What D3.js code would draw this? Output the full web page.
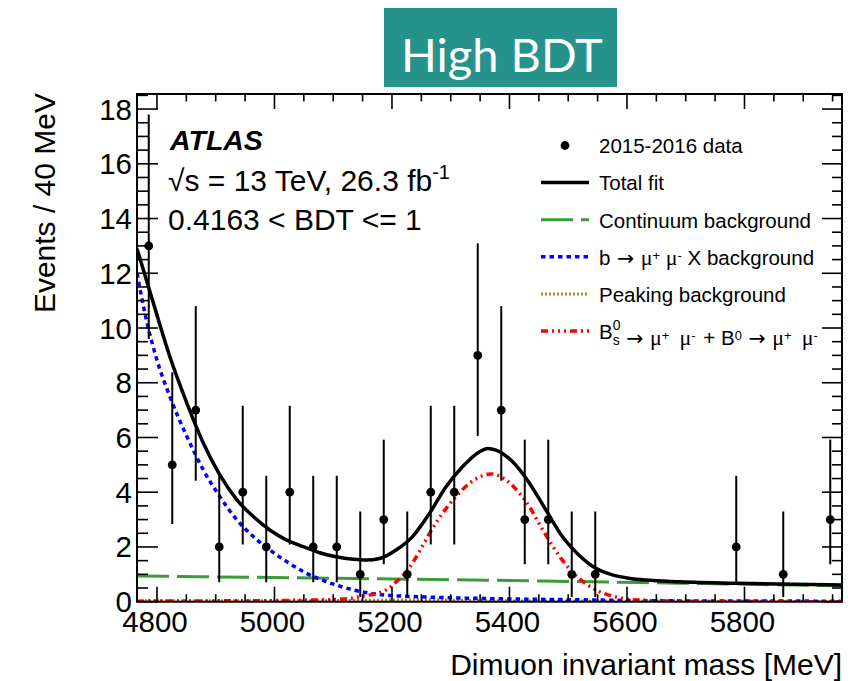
<!DOCTYPE html>
<html>
<head>
<meta charset="utf-8">
<script src="https://cdn.jsdelivr.net/npm/d3@7"></script>
<style>
  body { margin: 0; background: #fff; }
  text { font-family: "Liberation Sans", Arial, Helvetica, sans-serif; }
</style>
</head>
<body>
<svg id="chart" width="851" height="681"></svg>
<script>
// data points, 40 MeV bins (empty bins are not drawn)
const dataMass  = [4786, 4826, 4866, 4906, 4946, 4986, 5026, 5066, 5106, 5146, 5186, 5226, 5266, 5306, 5346, 5386, 5426, 5466, 5506, 5546, 5786, 5866, 5946]
const dataCount = [13, 5, 7, 2, 4, 2, 4, 2, 2, 1, 3, 1, 4, 4, 9, 7, 3, 3, 1, 1, 2, 1, 3]
const dataLow   = [9.6, 2.84, 4.42, 0.71, 2.09, 0.71, 2.09, 0.71, 0.71, 0.17, 1.37, 0.17, 2.09, 2.09, 6.06, 4.42, 1.37, 1.37, 0.17, 0.17, 0.71, 0.17, 1.37]
const dataHigh  = [17.8, 8.38, 10.8, 4.6, 7.16, 4.6, 7.16, 4.6, 4.6, 3.3, 5.92, 3.3, 7.16, 7.16, 13.1, 10.8, 5.92, 5.92, 3.3, 3.3, 4.6, 3.3, 5.92]

// total fit
const totalMass = [4766, 4794, 4822, 4851, 4879, 4907, 4936, 4964, 4992, 5021, 5049, 5077, 5105, 5134, 5156, 5179, 5207, 5235, 5264, 5292, 5320, 5349, 5363, 5377, 5405, 5434, 5462, 5490, 5518, 5547, 5575, 5603, 5632, 5690, 5790, 5966]
const totalVal  = [12.9, 10.9, 8.95, 7.25, 5.79, 4.63, 3.72, 3.11, 2.62, 2.25, 2.01, 1.79, 1.64, 1.55, 1.52, 1.58, 1.89, 2.38, 3.23, 4.2, 4.93, 5.48, 5.6, 5.54, 5.12, 4.33, 3.35, 2.38, 1.71, 1.22, 0.98, 0.86, 0.79, 0.73, 0.67, 0.61]

// continuum background
const contMass = [4766, 4966, 5166, 5366, 5566, 5766, 5966]
const contVal  = [0.94, 0.89, 0.84, 0.785, 0.72, 0.65, 0.58]

// b -> mu mu X background
const bxMass = [4766, 4783, 4800, 4822, 4851, 4879, 4907, 4936, 4964, 4992, 5021, 5049, 5077, 5105, 5134, 5162, 5190, 5247, 5349, 5518, 5688, 5966]
const bxVal  = [12.0, 10.2, 8.83, 7.49, 6.03, 4.81, 3.84, 2.99, 2.38, 1.89, 1.46, 1.1, 0.82, 0.61, 0.43, 0.31, 0.24, 0.18, 0.12, 0.07, 0.03, 0.02]

// peaking background
const peakMass = [4766, 5100, 5200, 5260, 5320, 5400, 5600, 5966]
const peakVal  = [0.03, 0.04, 0.06, 0.07, 0.05, 0.03, 0.02, 0.01]

// Bs + B0 signal
const sigMass = [4766, 4900, 5000, 5060, 5111, 5150, 5190, 5207, 5227, 5247, 5264, 5286, 5309, 5332, 5354, 5368, 5394, 5417, 5434, 5450, 5467, 5490, 5518, 5547, 5575, 5603, 5650, 5750, 5966]
const sigVal  = [0.02, 0.03, 0.04, 0.06, 0.09, 0.2, 0.43, 0.72, 1.16, 1.85, 2.5, 3.23, 3.84, 4.33, 4.6, 4.67, 4.45, 3.96, 3.47, 2.87, 2.26, 1.52, 0.86, 0.43, 0.21, 0.09, 0.03, 0.01, 0]

const xTicks = [4800, 5000, 5200, 5400, 5600, 5800]
const yTicks = [0, 2, 4, 6, 8, 10, 12, 14, 16, 18]

const svg = d3.select("#chart")

const pLeft = 137, pRight = 842, pTop = 94, pBottom = 601.7

const x = d3.scaleLinear().domain([4766, 5966]).range([pLeft, pRight])
const y = d3.scaleLinear().domain([0, 18.55]).range([pBottom, pTop])

// banner
svg.append("rect")
    .attr("x", 384).attr("y", 8)
    .attr("width", 233).attr("height", 79)
    .attr("fill", "#26928c")
svg.append("text")
    .attr("x", 401).attr("y", 71.5)
    .attr("fill", "#fff")
    .style("font-family", "Lato, 'Open Sans', sans-serif")
    .attr("font-size", 47)
    .text("High BDT")

svg.append("clipPath").attr("id", "plotclip")
  .append("rect")
    .attr("x", pLeft).attr("y", pTop)
    .attr("width", pRight - pLeft).attr("height", pBottom - pTop)

const plot = svg.append("g").attr("clip-path", "url(#plotclip)")

const line = (xs, ys) => d3.line()
    .x((d, i) => x(xs[i]))
    .y((d, i) => y(ys[i]))
    .curve(d3.curveMonotoneX)(xs)

// curves
plot.append("path")
    .attr("d", line(peakMass, peakVal))
    .attr("fill", "none").attr("stroke", "#b5862a")
    .attr("stroke-width", 3).attr("stroke-dasharray", "2 2")
plot.append("path")
    .attr("d", line(contMass, contVal))
    .attr("fill", "none").attr("stroke", "#3b9b3b")
    .attr("stroke-width", 3).attr("stroke-dasharray", "32 8")
plot.append("path")
    .attr("d", line(bxMass, bxVal))
    .attr("fill", "none").attr("stroke", "#0000ff")
    .attr("stroke-width", 3.5).attr("stroke-dasharray", "4.5 4")
plot.append("path")
    .attr("d", line(sigMass, sigVal))
    .attr("fill", "none").attr("stroke", "#ff0000")
    .attr("stroke-width", 3.5).attr("stroke-dasharray", "7 4 2 4 2 4 2 4")
plot.append("path")
    .attr("d", line(totalMass, totalVal))
    .attr("fill", "none").attr("stroke", "#000")
    .attr("stroke-width", 3.5)

// data points
const pts = plot.append("g")
pts.selectAll("line")
  .data(dataMass)
  .join("line")
    .attr("x1", d => x(d)).attr("x2", d => x(d))
    .attr("y1", (d, i) => y(dataLow[i]))
    .attr("y2", (d, i) => y(dataHigh[i]))
    .attr("stroke", "#000").attr("stroke-width", 2)
pts.selectAll("circle")
  .data(dataMass)
  .join("circle")
    .attr("cx", d => x(d))
    .attr("cy", (d, i) => y(dataCount[i]))
    .attr("r", 4.4)
    .attr("fill", "#000")

// frame and ticks (ROOT style, ticks on all four sides)
const axes = svg.append("g").attr("stroke", "#000").attr("stroke-width", 2)
axes.append("rect")
    .attr("x", pLeft).attr("y", pTop)
    .attr("width", pRight - pLeft).attr("height", pBottom - pTop)
    .attr("fill", "none")

const xMinor = d3.range(4800, 5966, 50)
xMinor.forEach(v => {
  const major = xTicks.includes(v)
  axes.append("line")
      .attr("x1", x(v)).attr("x2", x(v))
      .attr("y1", pBottom).attr("y2", pBottom - (major ? 15 : 7.5))
      .attr("stroke-width", 1.6)
  axes.append("line")
      .attr("x1", x(v)).attr("x2", x(v))
      .attr("y1", pTop).attr("y2", pTop + (major ? 15 : 7.5))
      .attr("stroke-width", 1.6)
})
const yMinor = d3.range(0, 18.55, 0.5)
yMinor.forEach(v => {
  const major = yTicks.includes(v)
  axes.append("line")
      .attr("x1", pLeft).attr("x2", pLeft + (major ? 21 : 11))
      .attr("y1", y(v)).attr("y2", y(v))
      .attr("stroke-width", 1.6)
  axes.append("line")
      .attr("x1", pRight).attr("x2", pRight - (major ? 20 : 10))
      .attr("y1", y(v)).attr("y2", y(v))
      .attr("stroke-width", 1.6)
})

// tick labels
svg.append("g").selectAll("text")
  .data(xTicks)
  .join("text")
    .attr("x", d => x(d) - 2)
    .attr("y", 632)
    .attr("text-anchor", "middle")
    .attr("font-size", 29.5)
    .text(d => d)
svg.append("g").selectAll("text")
  .data(yTicks)
  .join("text")
    .attr("x", 132)
    .attr("y", d => y(d) + 10.5)
    .attr("text-anchor", "end")
    .attr("font-size", 29.5)
    .text(d => d)

// axis titles
svg.append("text")
    .attr("x", 842).attr("y", 675)
    .attr("text-anchor", "end")
    .attr("font-size", 30)
    .text("Dimuon invariant mass [MeV]")
svg.append("text")
    .attr("transform", "translate(55,93) rotate(-90)")
    .attr("text-anchor", "end")
    .attr("font-size", 30)
    .text("Events / 40 MeV")

// ATLAS label
svg.append("text")
    .attr("x", 170).attr("y", 150)
    .attr("font-size", 28.5)
    .attr("font-weight", "bold").attr("font-style", "italic")
    .text("ATLAS")
const lumi = svg.append("text")
    .attr("x", 168).attr("y", 191)
    .attr("font-size", 30)
lumi.append("tspan").text("\u221As = 13 TeV, 26.3 fb")
lumi.append("tspan").attr("font-size", 20).attr("dy", -12).text("-1")
svg.append("text")
    .attr("x", 168).attr("y", 230)
    .attr("font-size", 30)
    .text("0.4163 < BDT <= 1")

// legend
const legX1 = 541, legX2 = 589, legTx = 599, legY0 = 145.5, legDy = 37.1
const leg = svg.append("g")
leg.append("circle").attr("cx", (legX1 + legX2) / 2).attr("cy", legY0).attr("r", 4.4)
const legLines = [
  { stroke: "#000", dash: null, w: 3.5 },
  { stroke: "#3b9b3b", dash: "32 8", w: 3 },
  { stroke: "#0000ff", dash: "4.5 4", w: 3.5 },
  { stroke: "#b5862a", dash: "2 2", w: 3 },
  { stroke: "#ff0000", dash: "7 4 2 4 2 4 2 4", w: 3.5 }
]
legLines.forEach((s, i) => {
  leg.append("line")
      .attr("x1", legX1).attr("x2", legX2)
      .attr("y1", legY0 + (i + 1) * legDy).attr("y2", legY0 + (i + 1) * legDy)
      .attr("stroke", s.stroke).attr("stroke-width", s.w)
      .attr("stroke-dasharray", s.dash)
})
const legText = (i) => leg.append("text")
    .attr("x", legTx).attr("y", legY0 + i * legDy + 7.8)
    .attr("font-size", 20.5)
legText(0).text("2015-2016 data")
legText(1).text("Total fit")
legText(2).text("Continuum background")

const sup = (t, s) => t.append("tspan").attr("font-size", 13).attr("baseline-shift", "40%").text(s)
const mu = (t) => t.append("tspan").style("font-family", "'Liberation Serif', serif").attr("font-size", 22).text("\u03BC")
const arrow = (t) => t.append("tspan").style("font-family", "'DejaVu Sans', sans-serif").text(" \u2192 ")

const t4 = legText(3)
t4.append("tspan").text("b")
arrow(t4)
mu(t4); sup(t4, "+"); t4.append("tspan").text(" ")
mu(t4); sup(t4, "-"); t4.append("tspan").text(" X background")

legText(4).text("Peaking background")

const t6 = legText(5)
t6.append("tspan").text("B")
t6.append("tspan").attr("font-size", 14).attr("dy", -9).text("0")
t6.append("tspan").attr("font-size", 14).attr("dx", -7.8).attr("dy", 15).text("s")
t6.append("tspan").attr("dy", -6).attr("dx", 2).text("")
arrow(t6)
mu(t6); sup(t6, "+"); t6.append("tspan").text("\u2002")
mu(t6); sup(t6, "-"); t6.append("tspan").attr("dx", 2).text(" + B")
sup(t6, "0")
arrow(t6)
mu(t6); sup(t6, "+"); t6.append("tspan").text("\u2002")
mu(t6); sup(t6, "-")
</script>
</body>
</html>
